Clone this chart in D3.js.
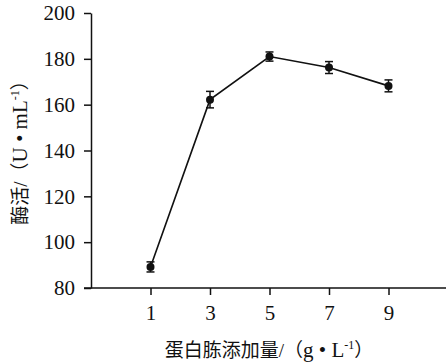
<!DOCTYPE html>
<html>
<head>
<meta charset="utf-8">
<script src="https://cdn.jsdelivr.net/npm/d3@7"></script>
<style>
  body { margin: 0; background: #fff; }
  text { font-family: "Liberation Serif", "Noto Sans CJK SC", serif; fill: #111; }
</style>
</head>
<body>
<svg id="chart"></svg>
<script>
const doses = [1, 3, 5, 7, 9];
const activity = [89.2, 162.2, 181.0, 176.2, 168.2];
const errors = [2.2, 3.6, 2.0, 2.6, 2.6];
const yTicks = [80, 100, 120, 140, 160, 180, 200];

const W = 446, H = 364;
const margin = { top: 13, right: 0, bottom: 76, left: 91 };

const svg = d3.select("#chart").attr("width", W).attr("height", H);

const x = d3.scaleLinear().domain([-1, 11]).range([margin.left, 448]);
const y = d3.scaleLinear().domain([80, 200]).range([H - margin.bottom, margin.top]);

const yAxis = svg.append("g")
  .attr("transform", `translate(${margin.left},0)`)
  .call(d3.axisLeft(y).tickValues(yTicks).tickSize(7).tickPadding(9).tickSizeOuter(0));

const xAxis = svg.append("g")
  .attr("transform", `translate(0,${H - margin.bottom})`)
  .call(d3.axisBottom(x).tickValues(doses).tickSize(7).tickPadding(10).tickSizeOuter(0));

[xAxis, yAxis].forEach(g => {
  g.select(".domain").attr("stroke", "#111").attr("stroke-width", 1.5);
  g.selectAll(".tick line").attr("stroke", "#111").attr("stroke-width", 1.5);
  g.selectAll(".tick text").attr("font-size", 21).attr("font-family", "Liberation Serif").attr("fill", "#111");
});
// x axis line starts a bit left of the y axis
xAxis.select(".domain").attr("d", `M84,0H446`);

const pts = doses.map((d, i) => ({ x: d, y: activity[i], e: errors[i] }));

svg.append("path")
  .datum(pts)
  .attr("fill", "none")
  .attr("stroke", "#111")
  .attr("stroke-width", 1.6)
  .attr("d", d3.line().x(d => x(d.x)).y(d => y(d.y)));

const eb = svg.append("g").attr("stroke", "#111").attr("stroke-width", 1.5);
pts.forEach(d => {
  eb.append("line").attr("x1", x(d.x)).attr("x2", x(d.x)).attr("y1", y(d.y - d.e)).attr("y2", y(d.y + d.e));
  eb.append("line").attr("x1", x(d.x) - 4).attr("x2", x(d.x) + 4).attr("y1", y(d.y - d.e)).attr("y2", y(d.y - d.e));
  eb.append("line").attr("x1", x(d.x) - 4).attr("x2", x(d.x) + 4).attr("y1", y(d.y + d.e)).attr("y2", y(d.y + d.e));
});

svg.selectAll(".dot")
  .data(pts)
  .enter()
  .append("circle")
  .attr("cx", d => x(d.x))
  .attr("cy", d => y(d.y))
  .attr("r", 4)
  .attr("fill", "#111");

// x label
const xl = svg.append("text")
  .attr("x", 269)
  .attr("y", 357)
  .attr("text-anchor", "middle")
  .attr("font-size", 19);
xl.append("tspan").text("蛋白胨添加量/（");
xl.append("tspan").attr("font-size", 21).text("g • L");
xl.append("tspan").attr("font-size", 12).attr("dy", -8).text("-1");
xl.append("tspan").attr("dy", 8).text("）");

// y label
const yl = svg.append("text")
  .attr("transform", "translate(27,148) rotate(-90)")
  .attr("text-anchor", "middle")
  .attr("font-size", 19);
yl.append("tspan").text("酶活/（");
yl.append("tspan").attr("font-size", 21).text("U • mL");
yl.append("tspan").attr("font-size", 12).attr("dy", -8).text("-1");
yl.append("tspan").attr("dy", 8).text("）");
</script>
</body>
</html>
